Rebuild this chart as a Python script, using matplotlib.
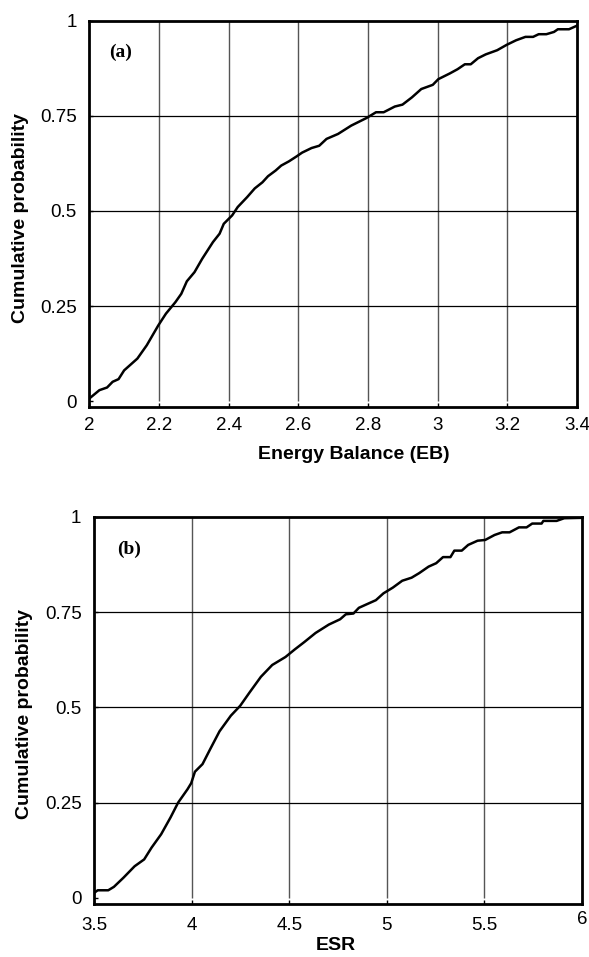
import matplotlib
matplotlib.use("Agg")
import matplotlib.pyplot as plt
from matplotlib.transforms import ScaledTranslation

plt.rcParams['font.family'] = ['Liberation Sans', 'DejaVu Sans']

# Panel (a): Energy Balance CDF
eb_x = [2.000, 2.029, 2.051, 2.067, 2.084, 2.100, 2.138, 2.165, 2.198, 2.220,
        2.247, 2.264, 2.280, 2.302, 2.324, 2.355, 2.374, 2.386, 2.410, 2.426,
        2.453, 2.475, 2.497, 2.513, 2.535, 2.551, 2.573, 2.595, 2.611, 2.638,
        2.660, 2.681, 2.714, 2.752, 2.796, 2.823, 2.845, 2.877, 2.899, 2.926,
        2.953, 2.986, 3.002, 3.035, 3.057, 3.078, 3.095, 3.116, 3.138, 3.171,
        3.198, 3.225, 3.252, 3.274, 3.290, 3.312, 3.334, 3.345, 3.377, 3.399]
eb_p = [0.007, 0.029, 0.036, 0.051, 0.058, 0.081, 0.112, 0.147, 0.199, 0.230,
        0.260, 0.282, 0.315, 0.339, 0.374, 0.418, 0.440, 0.466, 0.488, 0.510,
        0.536, 0.559, 0.575, 0.591, 0.606, 0.619, 0.630, 0.643, 0.653, 0.665,
        0.671, 0.689, 0.702, 0.724, 0.744, 0.759, 0.759, 0.774, 0.779, 0.798,
        0.820, 0.831, 0.846, 0.861, 0.872, 0.885, 0.885, 0.901, 0.911, 0.922,
        0.936, 0.948, 0.957, 0.957, 0.964, 0.964, 0.970, 0.977, 0.977, 0.986]

# Panel (b): ESR CDF
esr_x = [3.500, 3.519, 3.573, 3.602, 3.651, 3.708, 3.757, 3.795, 3.844, 3.892,
         3.931, 3.979, 3.998, 4.017, 4.056, 4.095, 4.143, 4.201, 4.249, 4.297,
         4.355, 4.413, 4.481, 4.529, 4.577, 4.635, 4.703, 4.761, 4.790, 4.829,
         4.857, 4.896, 4.944, 4.983, 5.031, 5.079, 5.127, 5.166, 5.214, 5.253,
         5.288, 5.326, 5.346, 5.384, 5.417, 5.465, 5.504, 5.552, 5.591, 5.629,
         5.677, 5.716, 5.745, 5.793, 5.802, 5.870, 5.909, 5.996]
esr_p = [0.013, 0.020, 0.020, 0.029, 0.053, 0.083, 0.101, 0.132, 0.167, 0.211,
         0.250, 0.285, 0.301, 0.331, 0.351, 0.390, 0.437, 0.478, 0.504, 0.539,
         0.580, 0.611, 0.632, 0.652, 0.671, 0.695, 0.717, 0.731, 0.744, 0.746,
         0.761, 0.770, 0.781, 0.799, 0.814, 0.832, 0.840, 0.852, 0.869, 0.878,
         0.894, 0.894, 0.911, 0.911, 0.926, 0.937, 0.939, 0.952, 0.959, 0.959,
         0.972, 0.972, 0.982, 0.982, 0.989, 0.989, 0.996, 0.997]

y_ticks = [0, 0.25, 0.5, 0.75, 1]
y_tick_labels = ['0', '0.25', '0.5', '0.75', '1']
eb_ticks = [2.0, 2.2, 2.4, 2.6, 2.8, 3.0, 3.2, 3.4]
eb_tick_labels = ['2', '2.2', '2.4', '2.6', '2.8', '3', '3.2', '3.4']
esr_ticks = [3.5, 4.0, 4.5, 5.0, 5.5, 6.0]
esr_tick_labels = ['3.5', '4', '4.5', '5', '5.5', '6']

W, H = 589, 957
fig = plt.figure(figsize=(W / 100, H / 100), dpi=100)

ax1 = fig.add_axes([89.3 / W, 1 - 407.3 / H, (577 - 89.3) / W, (407.3 - 20.5) / H])
ax2 = fig.add_axes([94 / W, 1 - 904 / H, (582 - 94) / W, (904 - 516.7) / H])

def style(ax, x, p, xlim, xt, xtl, xlabel, panel, ppos, xlab_coords, ylab_coords, xpad):
    # grid lines: verticals span 0..1, horizontals at interior y ticks
    ax.vlines(xt[1:-1], 0, 1, colors='#555555', lw=1.0, zorder=1)
    ax.hlines(y_ticks[1:-1], xlim[0], xlim[1], colors='black', lw=0.9, zorder=1)
    ax.plot(x, p, color='black', lw=1.8, solid_joinstyle='round', zorder=3)
    ax.set_xlim(*xlim)
    ax.set_ylim(-0.016, 1)
    ax.set_xticks(xt)
    ax.set_xticklabels(xtl)
    ax.set_yticks(y_ticks)
    ax.set_yticklabels(y_tick_labels)
    ax.tick_params(axis='both', direction='in', length=3, width=1, labelsize=13.5, color='black')
    ax.tick_params(axis='x', pad=xpad)
    ax.tick_params(axis='y', pad=9)
    for s in ax.spines.values():
        s.set_linewidth(2.0)
        s.set_color('black')
    ax.set_xlabel(xlabel, fontsize=14, fontweight='bold', va='center')
    ax.xaxis.set_label_coords(*xlab_coords)
    ax.set_ylabel('Cumulative probability', fontsize=14, fontweight='bold', va='center')
    ax.yaxis.set_label_coords(*ylab_coords)
    ax.text(ppos[0], ppos[1], panel, fontsize=14, fontweight='bold',
            family=['Liberation Serif', 'DejaVu Serif'], ha='center', va='center')

style(ax1, eb_x, eb_p, (2.0, 3.4), eb_ticks, eb_tick_labels, 'Energy Balance (EB)',
      '(a)', (2.091, 0.917), (0.542, -0.123), (-0.141, 0.49), 7)
style(ax2, esr_x, esr_p, (3.5, 6.0), esr_ticks, esr_tick_labels, 'ESR',
      '(b)', (3.679, 0.9155), (0.495, -0.108), (-0.143, 0.49), 9)

fig.canvas.draw()
lab = ax2.xaxis.get_major_ticks()[-1].label1
lab.set_transform(lab.get_transform() + ScaledTranslation(0, 6 / 100, fig.dpi_scale_trans))

fig.savefig('out.png', dpi=100)
